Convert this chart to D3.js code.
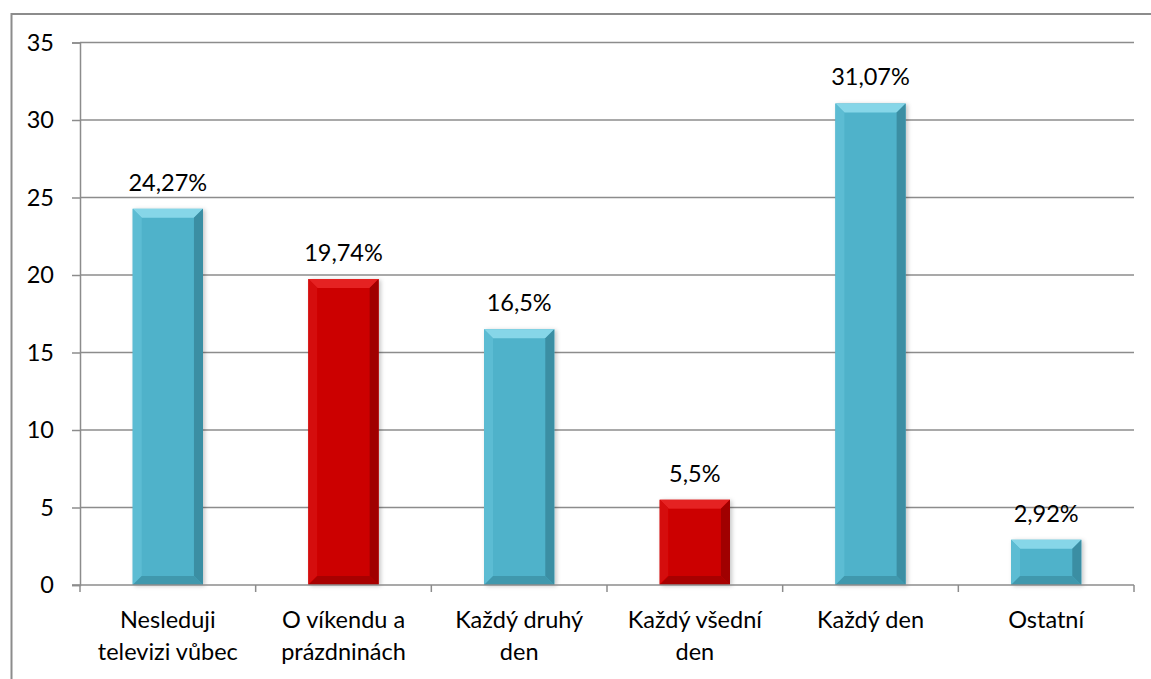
<!DOCTYPE html>
<html>
<head>
<meta charset="utf-8">
<script src="https://cdn.jsdelivr.net/npm/d3@7"></script>
<style>
  body { margin: 0; background: #fff; }
  text { font-family: Lato, "Open Sans", sans-serif; fill: #000; }
</style>
</head>
<body>
<div id="chart"></div>
<script>
// data
const categories = ["Nesleduji televizi vůbec", "O víkendu a prázdninách", "Každý druhý den", "Každý všední den", "Každý den", "Ostatní"]
const labelLines = [["Nesleduji", "televizi vůbec"], ["O víkendu a", "prázdninách"], ["Každý druhý", "den"], ["Každý všední", "den"], ["Každý den"], ["Ostatní"]]
const values = [24.27, 19.74, 16.5, 5.5, 31.07, 2.92]
const valueLabels = ["24,27%", "19,74%", "16,5%", "5,5%", "31,07%", "2,92%"]
const barKind = ["blue", "red", "blue", "red", "blue", "blue"]
const yTicks = [0, 5, 10, 15, 20, 25, 30, 35]

const W = 1151, H = 679
const plot = {left: 80, right: 1134, top: 42.5, bottom: 585}
const fontSize = "23.5px"

const palette = {
  blue: {main: "#4fb2ca", top: "#86d6e8", left: "#5cbcd3", right: "#3a8ea3", bottom: "#3f98ad"},
  red:  {main: "#cc0000", top: "#e52222", left: "#d50808", right: "#a00000", bottom: "#a80000"}
}

const svg = d3.select("#chart")
  .append("svg")
    .attr("width", W)
    .attr("height", H)

// outer chart border (runs off right / bottom)
svg.append("rect")
  .attr("x", 11.5).attr("y", 14)
  .attr("width", 1160).attr("height", 700)
  .style("fill", "none")
  .style("stroke", "#8c8c8c")
  .style("stroke-width", 2)

const defs = svg.append("defs")
const shadow = defs.append("filter").attr("id", "shadow")
  .attr("x", "-20%").attr("y", "-20%").attr("width", "140%").attr("height", "140%")
shadow.append("feDropShadow")
  .attr("dx", 2).attr("dy", 1).attr("stdDeviation", 2)
  .attr("flood-color", "#000").attr("flood-opacity", 0.22)

const x = d3.scaleBand()
  .domain(categories)
  .range([plot.left, plot.right])
  .paddingInner(0.6)
  .paddingOuter(0.3)

const y = d3.scaleLinear()
  .domain([0, 35])
  .range([plot.bottom, plot.top])

// gridlines
svg.append("g")
  .selectAll("line")
  .data(yTicks.filter(d => d > 0))
  .enter()
  .append("line")
    .attr("x1", plot.left).attr("x2", plot.right)
    .attr("y1", d => y(d)).attr("y2", d => y(d))
    .style("stroke", "#8c8c8c")
    .style("stroke-width", 1.5)

// y axis
const yAxis = svg.append("g")
  .attr("transform", "translate(" + plot.left + ",0)")
  .call(d3.axisLeft(y).tickValues(yTicks).tickSize(8).tickPadding(18))
yAxis.select(".domain").style("stroke", "#8c8c8c").style("stroke-width", 1.5)
yAxis.selectAll(".tick line").style("stroke", "#8c8c8c").style("stroke-width", 1.5)
yAxis.selectAll("text").style("font-size", fontSize).attr("fill", "#000")

// bars with a bevel
const step = x.step()
const bars = svg.append("g")
  .selectAll("g")
  .data(categories)
  .enter()
  .append("g")
    .attr("filter", "url(#shadow)")

bars.each(function(c, i) {
  const g = d3.select(this)
  const bx = x(c), bw = x.bandwidth()
  const by = y(values[i]), bh = y(0) - y(values[i])
  const b = Math.min(9, bh / 2)
  const p = palette[barKind[i]]
  g.append("rect").attr("x", bx).attr("y", by).attr("width", bw).attr("height", bh).style("fill", p.main)
  const poly = (pts, fill) => g.append("polygon").attr("points", pts.map(q => q.join(",")).join(" ")).style("fill", fill)
  poly([[bx, by], [bx + bw, by], [bx + bw - b, by + b], [bx + b, by + b]], p.top)
  poly([[bx, by], [bx + b, by + b], [bx + b, by + bh - b], [bx, by + bh]], p.left)
  poly([[bx + bw, by], [bx + bw, by + bh], [bx + bw - b, by + bh - b], [bx + bw - b, by + b]], p.right)
  poly([[bx, by + bh], [bx + bw, by + bh], [bx + bw - b, by + bh - b], [bx + b, by + bh - b]], p.bottom)
})

// value labels
svg.append("g")
  .selectAll("text")
  .data(categories)
  .enter()
  .append("text")
    .attr("x", d => x(d) + x.bandwidth() / 2)
    .attr("y", (d, i) => y(values[i]) - 18)
    .attr("text-anchor", "middle")
    .style("font-size", fontSize)
    .text((d, i) => valueLabels[i])

// x axis line and category boundary ticks
svg.append("line")
  .attr("x1", plot.left - 8).attr("x2", plot.right)
  .attr("y1", plot.bottom).attr("y2", plot.bottom)
  .style("stroke", "#8c8c8c").style("stroke-width", 1.5)

svg.append("g")
  .selectAll("line")
  .data(d3.range(categories.length + 1))
  .enter()
  .append("line")
    .attr("x1", i => plot.left + i * step).attr("x2", i => plot.left + i * step)
    .attr("y1", plot.bottom).attr("y2", plot.bottom + 7)
    .style("stroke", "#8c8c8c").style("stroke-width", 1.5)

// category labels
const catLabels = svg.append("g")
  .selectAll("text")
  .data(categories)
  .enter()
  .append("text")
    .attr("x", d => x(d) + x.bandwidth() / 2)
    .attr("y", 628)
    .attr("text-anchor", "middle")
    .style("font-size", fontSize)

catLabels.each(function(d, i) {
  d3.select(this).selectAll("tspan")
    .data(labelLines[i])
    .enter()
    .append("tspan")
      .attr("x", x(d) + x.bandwidth() / 2)
      .attr("dy", (t, j) => j === 0 ? 0 : 32)
      .text(t => t)
})
</script>
</body>
</html>
